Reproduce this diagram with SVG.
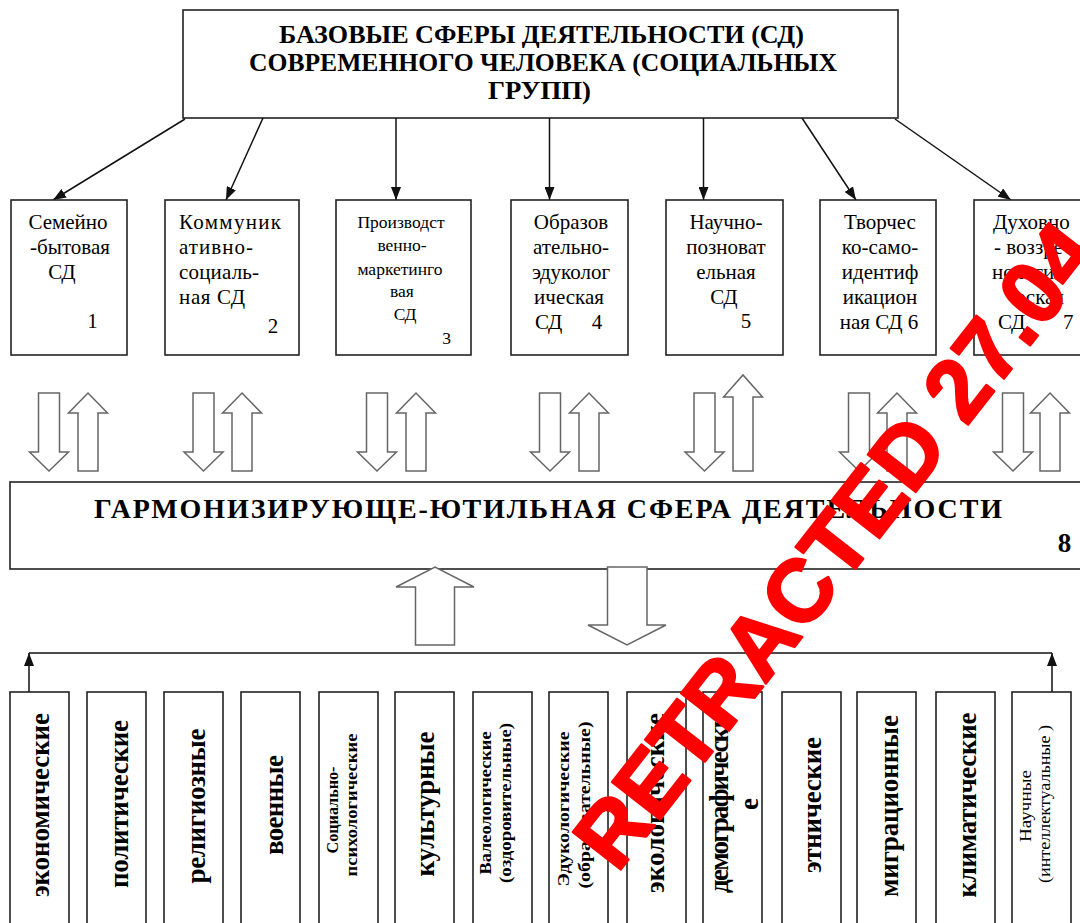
<svg xmlns="http://www.w3.org/2000/svg" width="1080" height="923" viewBox="0 0 1080 923">
<style>
.box{fill:#fff;stroke:#222;stroke-width:1.6}
.blk{fill:#fff;stroke:#666;stroke-width:1.5;stroke-linejoin:miter}
.conn{stroke:#111;stroke-width:1.5;fill:none}
.t{font-family:"Liberation Serif","Times New Roman",serif;fill:#000}
.s{font-size:21px}
.s3{font-size:17.5px}
.b{font-weight:bold}
.v{font-family:"Liberation Serif","Times New Roman",serif;font-weight:bold;font-size:27px;fill:#000;text-anchor:middle}
.vs{font-family:"Liberation Serif","Times New Roman",serif;font-weight:bold;font-size:17px;fill:#000;text-anchor:middle}
.vr{font-family:"Liberation Serif","Times New Roman",serif;font-size:17px;fill:#000;text-anchor:middle}
.m{text-anchor:middle}
.wm{font-family:"Liberation Sans",Arial,sans-serif;font-weight:bold;font-size:88px;fill:#ff0000;stroke:#ff0000;stroke-width:2.5;stroke-linejoin:round}
</style>
<defs>
<marker id="ah" markerUnits="userSpaceOnUse" markerWidth="13" markerHeight="10" refX="13" refY="5" orient="auto"><path d="M0,0 L13,5 L0,10 Z" fill="#111"/></marker>
</defs>
<rect width="1080" height="923" fill="#fff"/>

<g id="top">
<rect class="box" x="183" y="10" width="715" height="108"/>
<text class="t b" font-size="25" x="279" y="43" textLength="525" lengthAdjust="spacingAndGlyphs">БАЗОВЫЕ СФЕРЫ ДЕЯТЕЛЬНОСТИ (СД)</text>
<text class="t b" font-size="25" x="249" y="71" textLength="588" lengthAdjust="spacingAndGlyphs">СОВРЕМЕННОГО ЧЕЛОВЕКА (СОЦИАЛЬНЫХ</text>
<text class="t b" font-size="25" x="488" y="99" textLength="103" lengthAdjust="spacingAndGlyphs">ГРУПП)</text>
</g>

<g id="connectors">
<line class="conn" x1="185" y1="119" x2="53" y2="200" marker-end="url(#ah)"/>
<line class="conn" x1="263" y1="118" x2="226" y2="200" marker-end="url(#ah)"/>
<line class="conn" x1="396" y1="118" x2="396" y2="200" marker-end="url(#ah)"/>
<line class="conn" x1="549.5" y1="118" x2="549.5" y2="200" marker-end="url(#ah)"/>
<line class="conn" x1="703.5" y1="118" x2="703.5" y2="200" marker-end="url(#ah)"/>
<line class="conn" x1="802" y1="118" x2="856" y2="200" marker-end="url(#ah)"/>
<line class="conn" x1="895" y1="119" x2="1011" y2="200" marker-end="url(#ah)"/>
<polyline class="conn" points="29,653 1052,653"/>
<line class="conn" x1="29" y1="692" x2="29" y2="653" marker-end="url(#ah)"/>
<line class="conn" x1="1052" y1="692" x2="1052" y2="653" marker-end="url(#ah)"/>
</g>

<g id="n1">
<rect class="box" x="11" y="200" width="116" height="155"/>
<text class="t s m" x="68" y="229">Семейно</text>
<text class="t s m" x="70" y="254">-бытовая</text>
<text class="t s m" x="62" y="279">СД</text>
<text class="t s m" x="92.5" y="328">1</text>
</g>
<g id="n2">
<rect class="box" x="165" y="200" width="134" height="155"/>
<text class="t s" x="179" y="229" textLength="102" lengthAdjust="spacing">Коммуник</text>
<text class="t s" x="179" y="254" textLength="74" lengthAdjust="spacing">ативно-</text>
<text class="t s" x="179" y="279" textLength="80" lengthAdjust="spacing">социаль-</text>
<text class="t s" x="179" y="304" textLength="66" lengthAdjust="spacing">ная СД</text>
<text class="t s m" x="273" y="333">2</text>
</g>
<g id="n3">
<rect class="box" x="336" y="200" width="135" height="155"/>
<text class="t s3 m" x="401" y="228">Производст</text>
<text class="t s3 m" x="402" y="251">венно-</text>
<text class="t s3 m" x="400" y="275">маркетинго</text>
<text class="t s3 m" x="402" y="297">вая</text>
<text class="t s3 m" x="405" y="320">СД</text>
<text class="t s3 m" x="446.5" y="344">3</text>
</g>
<g id="n4">
<rect class="box" x="511" y="200" width="117" height="155"/>
<text class="t s m" x="571" y="229">Образов</text>
<text class="t s m" x="571" y="254">ательно-</text>
<text class="t s m" x="571" y="279">эдуколог</text>
<text class="t s m" x="569" y="304">ическая</text>
<text class="t s" x="535" y="329">СД</text>
<text class="t s m" x="597" y="329">4</text>
</g>
<g id="n5">
<rect class="box" x="666" y="200" width="117" height="155"/>
<text class="t s m" x="726" y="229">Научно-</text>
<text class="t s m" x="726" y="254">позноват</text>
<text class="t s m" x="726" y="279">ельная</text>
<text class="t s m" x="724" y="304">СД</text>
<text class="t s m" x="746" y="328">5</text>
</g>
<g id="n6">
<rect class="box" x="820" y="200" width="116" height="155"/>
<text class="t s m" x="880" y="229">Творчес</text>
<text class="t s m" x="880" y="254">ко-само-</text>
<text class="t s m" x="880" y="279">идентиф</text>
<text class="t s m" x="880" y="304">икацион</text>
<text class="t s m" x="879" y="329">ная СД 6</text>
</g>
<g id="n7">
<rect class="box" x="974" y="200" width="116" height="155"/>
<text class="t s" x="993" y="229">Духовно</text>
<text class="t s" x="994" y="254">- воззре</text>
<text class="t s" x="992" y="279">нологич</text>
<text class="t s m" x="1040" y="304">еская</text>
<text class="t s" x="998" y="329">СД</text>
<text class="t s" x="1063" y="329">7</text>
</g>

<g id="exchange-arrows">
<path class="blk" d="M38.5,393 H59.5 V452 H68.5 L49,471 L29.5,452 H38.5 Z"/>
<path class="blk" d="M78,471 V413 H68.5 L88,393 L107.5,413 H98 V471 Z"/>
<path class="blk" d="M193,393 H214 V452 H223 L203.5,471 L184,452 H193 Z"/>
<path class="blk" d="M232,471 V413 H222.5 L242,393 L261.5,413 H252 V471 Z"/>
<path class="blk" d="M366.5,393 H387.5 V452 H396.5 L377,471 L357.5,452 H366.5 Z"/>
<path class="blk" d="M406,471 V413 H396.5 L416,393 L435.5,413 H426 V471 Z"/>
<path class="blk" d="M539.5,393 H560.5 V452 H569.5 L550,471 L530.5,452 H539.5 Z"/>
<path class="blk" d="M579,471 V413 H569.5 L589,393 L608.5,413 H599 V471 Z"/>
<path class="blk" d="M694,393 H715 V452 H724 L704.5,471 L685,452 H694 Z"/>
<path class="blk" d="M733,471 V397 H723.5 L743,375 L762.5,397 H753 V471 Z"/>
<path class="blk" d="M848.5,393 H869.5 V452 H878.5 L859,471 L839.5,452 H848.5 Z"/>
<path class="blk" d="M887,471 V413 H877.5 L897,393 L916.5,413 H907 V471 Z"/>
<path class="blk" d="M1002.5,393 H1023.5 V452 H1032.5 L1013,471 L993.5,452 H1002.5 Z"/>
<path class="blk" d="M1040,471 V413 H1030.5 L1050,393 L1069.5,413 H1060 V471 Z"/>
</g>

<g id="n8">
<rect class="box" x="10" y="482" width="1080" height="87"/>
<text class="t b" font-size="28" x="94" y="518" textLength="908" lengthAdjust="spacing">ГАРМОНИЗИРУЮЩЕ-ЮТИЛЬНАЯ СФЕРА ДЕЯТЕЛЬНОСТИ</text>
<text class="t b m" font-size="27" x="1064.5" y="552">8</text>
</g>

<g id="big-arrows">
<path class="blk" d="M415.5,645 V587 H396 L435,567 L474,587 H454.5 V645 Z"/>
<path class="blk" d="M607.5,567 H647 V625 H666 L627,645 L588,625 H607.5 Z"/>
</g>

<g id="factors">
<g id="f1"><rect class="box" x="10" y="692" width="59" height="240"/><text class="v" transform="translate(49,805) rotate(-90)" textLength="184" lengthAdjust="spacing">экономические</text></g>
<g id="f2"><rect class="box" x="87" y="692" width="59" height="240"/><text class="v" transform="translate(128,804) rotate(-90)" textLength="168" lengthAdjust="spacing">политические</text></g>
<g id="f3"><rect class="box" x="164" y="692" width="59" height="240"/><text class="v" transform="translate(205,806) rotate(-90)" textLength="155" lengthAdjust="spacing">религиозные</text></g>
<g id="f4"><rect class="box" x="241" y="692" width="59" height="240"/><text class="v" transform="translate(283,805) rotate(-90)" textLength="100" lengthAdjust="spacing">военные</text></g>
<g id="f5"><rect class="box" x="319" y="692" width="59" height="240"/><text class="vs" transform="translate(338,810) rotate(-90)" textLength="87" lengthAdjust="spacingAndGlyphs">Социально-</text><text class="vs" transform="translate(357,805) rotate(-90)" textLength="143" lengthAdjust="spacingAndGlyphs">психологические</text></g>
<g id="f6"><rect class="box" x="395" y="692" width="59" height="240"/><text class="v" transform="translate(434,804) rotate(-90)" textLength="145" lengthAdjust="spacing">культурные</text></g>
<g id="f7"><rect class="box" x="473" y="692" width="59" height="240"/><text class="vs" transform="translate(491,803) rotate(-90)" textLength="143" lengthAdjust="spacingAndGlyphs">Валеологические</text><text class="vs" transform="translate(511,803) rotate(-90)" textLength="160" lengthAdjust="spacingAndGlyphs">(оздоровительные)</text></g>
<g id="f8"><rect class="box" x="549" y="692" width="59" height="240"/><text class="vs" transform="translate(569,809) rotate(-90)" textLength="155" lengthAdjust="spacingAndGlyphs">Эдукологические</text><text class="vs" transform="translate(590,805) rotate(-90)" textLength="167" lengthAdjust="spacingAndGlyphs">(образовательные)</text></g>
<g id="f9"><rect class="box" x="627" y="692" width="59" height="240"/><text class="v" transform="translate(664,803) rotate(-90)" textLength="180" lengthAdjust="spacing">экологические</text></g>
<g id="f10"><rect class="box" x="703" y="692" width="59" height="240"/><text class="v" transform="translate(728,803) rotate(-90)" textLength="180" lengthAdjust="spacing">демографически</text><text class="v" transform="translate(758,804) rotate(-90)">е</text></g>
<g id="f11"><rect class="box" x="782" y="692" width="59" height="240"/><text class="v" transform="translate(821,805) rotate(-90)" textLength="136" lengthAdjust="spacing">этнические</text></g>
<g id="f12"><rect class="box" x="857" y="692" width="59" height="240"/><text class="v" transform="translate(898,806) rotate(-90)" textLength="182" lengthAdjust="spacing">миграционные</text></g>
<g id="f13"><rect class="box" x="936" y="692" width="59" height="240"/><text class="v" transform="translate(976,805) rotate(-90)" textLength="185" lengthAdjust="spacing">климатические</text></g>
<g id="f14"><rect class="box" x="1012" y="692" width="59" height="240"/><text class="vr" transform="translate(1031,806) rotate(-90)" textLength="72" lengthAdjust="spacingAndGlyphs">Научные</text><text class="vr" transform="translate(1050,804) rotate(-90)" textLength="158" lengthAdjust="spacingAndGlyphs">(интеллектуальные )</text></g>
</g>

<text class="wm" transform="translate(617,874) rotate(-52)">RETRACTED 27.04</text>
</svg>
